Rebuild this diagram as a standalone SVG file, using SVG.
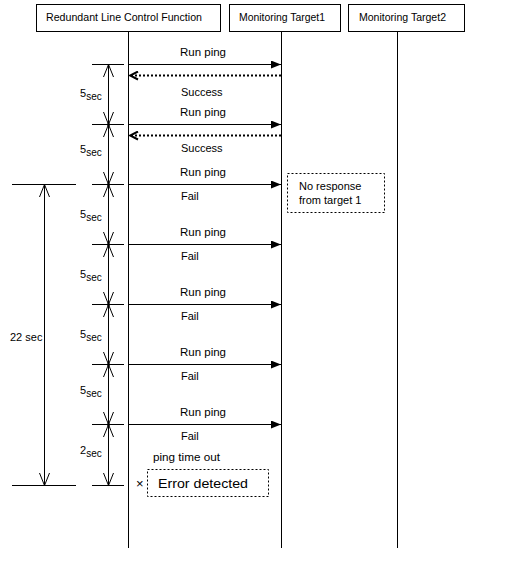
<svg xmlns="http://www.w3.org/2000/svg" width="505" height="561" viewBox="0 0 505 561">
<defs>
<style>
text{font-family:"Liberation Sans",Arial,sans-serif;font-size:11px;fill:#000}
.box{fill:#fff;stroke:#000;stroke-width:1}
.ln{stroke:#000;stroke-width:1;fill:none}
.dot{stroke:#000;stroke-width:2;fill:none;stroke-dasharray:2 2}
.note{fill:#fff;stroke:#000;stroke-width:1;stroke-dasharray:2 2}
.sub{font-size:10px}
</style>
<marker id="ah" markerWidth="10" markerHeight="8" refX="10" refY="4" orient="auto" markerUnits="userSpaceOnUse">
<path d="M0,0 L10,4 L0,8 Z" fill="#000"/>
</marker>
<marker id="ret" markerWidth="10" markerHeight="10" refX="9" refY="5" orient="auto" markerUnits="userSpaceOnUse">
<path d="M1,1 L9,5 L1,9" fill="none" stroke="#000" stroke-width="2"/>
</marker>
</defs>
<rect width="505" height="561" fill="#fff"/>
<g id="node-rlcf">
<rect class="box" x="36.5" y="4.5" width="184" height="27"/>
<text x="46" y="21" textLength="156" lengthAdjust="spacingAndGlyphs">Redundant Line Control Function</text>
</g>
<g id="node-target1">
<rect class="box" x="229.5" y="4.5" width="111" height="27"/>
<text x="239" y="21" textLength="86" lengthAdjust="spacingAndGlyphs">Monitoring Target1</text>
</g>
<g id="node-target2">
<rect class="box" x="348.5" y="4.5" width="116" height="27"/>
<text x="359" y="21" textLength="87" lengthAdjust="spacingAndGlyphs">Monitoring Target2</text>
</g>
<g id="lifelines">
<line class="ln" x1="128.5" y1="31" x2="128.5" y2="548"/>
<line class="ln" x1="281.5" y1="31" x2="281.5" y2="548"/>
<line class="ln" x1="397.5" y1="31" x2="397.5" y2="548"/>
</g>
<g id="connectors">
<line class="ln" x1="128" y1="64.5" x2="281" y2="64.5" marker-end="url(#ah)"/>
<line class="dot" x1="281" y1="75.5" x2="130" y2="75.5" marker-end="url(#ret)"/>
<line class="ln" x1="128" y1="124.5" x2="281" y2="124.5" marker-end="url(#ah)"/>
<line class="dot" x1="281" y1="135.5" x2="130" y2="135.5" marker-end="url(#ret)"/>
<line class="ln" x1="128" y1="184.5" x2="281" y2="184.5" marker-end="url(#ah)"/>
<line class="ln" x1="128" y1="244.5" x2="281" y2="244.5" marker-end="url(#ah)"/>
<line class="ln" x1="128" y1="304.5" x2="281" y2="304.5" marker-end="url(#ah)"/>
<line class="ln" x1="128" y1="364.5" x2="281" y2="364.5" marker-end="url(#ah)"/>
<line class="ln" x1="128" y1="424.5" x2="281" y2="424.5" marker-end="url(#ah)"/>
</g>
<g id="labels">
<text x="180" y="56" textLength="46" lengthAdjust="spacingAndGlyphs">Run ping</text>
<text x="181" y="96">Success</text>
<text x="180" y="116" textLength="46" lengthAdjust="spacingAndGlyphs">Run ping</text>
<text x="181" y="152">Success</text>
<text x="180" y="176" textLength="46" lengthAdjust="spacingAndGlyphs">Run ping</text>
<text x="181" y="200">Fail</text>
<text x="180" y="236" textLength="46" lengthAdjust="spacingAndGlyphs">Run ping</text>
<text x="181" y="260">Fail</text>
<text x="180" y="296" textLength="46" lengthAdjust="spacingAndGlyphs">Run ping</text>
<text x="181" y="320">Fail</text>
<text x="180" y="356" textLength="46" lengthAdjust="spacingAndGlyphs">Run ping</text>
<text x="181" y="380">Fail</text>
<text x="180" y="416" textLength="46" lengthAdjust="spacingAndGlyphs">Run ping</text>
<text x="181" y="440">Fail</text>
<text x="153" y="461" textLength="67" lengthAdjust="spacingAndGlyphs">ping time out</text>
</g>
<g id="note-noresponse">
<rect class="note" x="287.5" y="173.5" width="97" height="39"/>
<text x="299" y="190">No response</text>
<text x="299" y="204">from target 1</text>
</g>
<g id="note-error">
<rect class="note" x="147.5" y="469.5" width="121" height="27"/>
<text x="136" y="488" style="font-size:13px">×</text>
<text x="158" y="488" style="font-size:13.5px" textLength="90" lengthAdjust="spacingAndGlyphs">Error detected</text>
</g>
<g id="dimension-5sec">
<line class="ln" x1="108.5" y1="64" x2="108.5" y2="485"/>
<g class="ln">
<line x1="92" y1="64.5" x2="124" y2="64.5"/>
<line x1="92" y1="124.5" x2="124" y2="124.5"/>
<line x1="92" y1="184.5" x2="124" y2="184.5"/>
<line x1="92" y1="244.5" x2="124" y2="244.5"/>
<line x1="92" y1="304.5" x2="124" y2="304.5"/>
<line x1="92" y1="364.5" x2="124" y2="364.5"/>
<line x1="92" y1="424.5" x2="124" y2="424.5"/>
<line x1="92" y1="485.5" x2="124" y2="485.5"/>
</g>
<path class="ln" d="M103.5,77 L108.5,64.5 L113.5,77"/>
<path class="ln" d="M103.5,112 L108.5,124.5 L113.5,112 M103.5,137 L108.5,124.5 L113.5,137"/>
<path class="ln" d="M103.5,172 L108.5,184.5 L113.5,172 M103.5,197 L108.5,184.5 L113.5,197"/>
<path class="ln" d="M103.5,232 L108.5,244.5 L113.5,232 M103.5,257 L108.5,244.5 L113.5,257"/>
<path class="ln" d="M103.5,292 L108.5,304.5 L113.5,292 M103.5,317 L108.5,304.5 L113.5,317"/>
<path class="ln" d="M103.5,352 L108.5,364.5 L113.5,352 M103.5,377 L108.5,364.5 L113.5,377"/>
<path class="ln" d="M103.5,412 L108.5,424.5 L113.5,412 M103.5,437 L108.5,424.5 L113.5,437"/>
<path class="ln" d="M103.5,473 L108.5,485.5 L113.5,473"/>
<g fill="#000">
<circle cx="108.5" cy="124.5" r="1.5"/>
<circle cx="108.5" cy="184.5" r="1.5"/>
<circle cx="108.5" cy="244.5" r="1.5"/>
<circle cx="108.5" cy="304.5" r="1.5"/>
<circle cx="108.5" cy="364.5" r="1.5"/>
<circle cx="108.5" cy="424.5" r="1.5"/>
</g>
<text x="80" y="97">5<tspan class="sub" dy="3">sec</tspan></text>
<text x="80" y="153">5<tspan class="sub" dy="3">sec</tspan></text>
<text x="80" y="218">5<tspan class="sub" dy="3">sec</tspan></text>
<text x="80" y="278">5<tspan class="sub" dy="3">sec</tspan></text>
<text x="80" y="338">5<tspan class="sub" dy="3">sec</tspan></text>
<text x="80" y="394">5<tspan class="sub" dy="3">sec</tspan></text>
<text x="80" y="454">2<tspan class="sub" dy="3">sec</tspan></text>
</g>
<g id="dimension-22sec">
<line class="ln" x1="12" y1="184.5" x2="76" y2="184.5"/>
<line class="ln" x1="12" y1="485.5" x2="76" y2="485.5"/>
<line class="ln" x1="44.5" y1="184.5" x2="44.5" y2="485.5"/>
<path class="ln" d="M39.5,197 L44.5,184.5 L49.5,197 M39.5,473 L44.5,485.5 L49.5,473"/>
<text x="10" y="341">22 sec</text>
</g>
</svg>
